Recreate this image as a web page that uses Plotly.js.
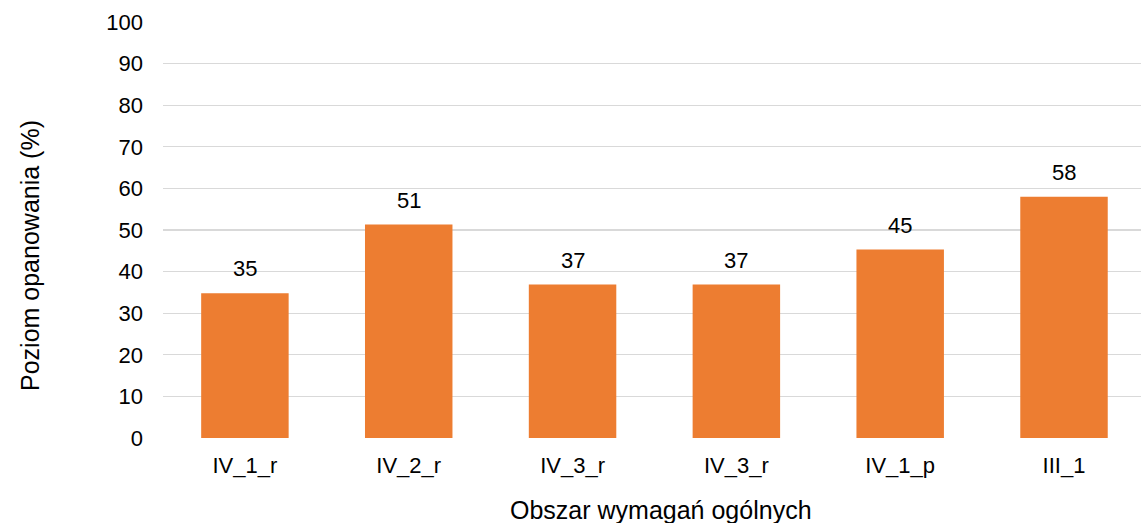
<!DOCTYPE html>
<html>
<head>
<meta charset="utf-8">
<script src="https://cdn.plot.ly/plotly-3.0.1.min.js"></script>
<style>html,body{margin:0;padding:0;background:#fff;}#chart{width:1141px;height:523px;}</style>
</head>
<body>
<div id="chart"></div>
<script>
const categories = ["IV_1_r", "IV_2_r", "IV_3_r", "IV_3_r", "IV_1_p", "III_1"];
const values = [34.8, 51.3, 36.9, 36.9, 45.3, 58.0];
const labels = ["35", "51", "37", "37", "45", "58"];
const xTitle = "Obszar wymagań ogólnych";
const yTitle = "Poziom opanowania (%)";

const font = "Liberation Sans, Arial, sans-serif";
const idx = categories.map((_, i) => i);

const trace = {
  type: "bar",
  x: idx,
  y: values,
  marker: {color: "#ED7D31"},
  hoverinfo: "skip"
};

const annotations = idx.map((i) => ({
  x: i, y: values[i], text: labels[i], showarrow: false,
  xanchor: "center", yanchor: "bottom", yshift: 10,
  font: {family: font, size: 22, color: "#000"}
}));
annotations.push({
  xref: "paper", yref: "paper", x: (661 - 163) / 978, y: (523 - 85 - 510) / 416,
  text: xTitle, showarrow: false, xanchor: "center", yanchor: "middle",
  font: {family: font, size: 25, color: "#000"}
});
annotations.push({
  xref: "paper", yref: "paper", x: (30 - 163) / 978, y: (438 - 256) / 416,
  text: yTitle, showarrow: false, xanchor: "center", yanchor: "middle", textangle: -90,
  font: {family: font, size: 25, color: "#000"}
});

const layout = {
  width: 1141, height: 523,
  margin: {l: 163, r: 0, t: 22, b: 85},
  paper_bgcolor: "#fff", plot_bgcolor: "#fff",
  bargap: 0.466,
  showlegend: false,
  font: {family: font, size: 22, color: "#000"},
  xaxis: {
    range: [-0.5, 5.47],
    tickmode: "array", tickvals: idx, ticktext: categories,
    showgrid: false, zeroline: false, showline: false,
    ticks: "", ticklabelstandoff: 12,
    tickfont: {family: font, size: 22, color: "#000"}
  },
  yaxis: {
    range: [0, 100], dtick: 10, tick0: 0,
    showgrid: true, gridcolor: "#D9D9D9", gridwidth: 1.3,
    zeroline: false, showline: false, ticks: "",
    ticklabelstandoff: 19,
    tickfont: {family: font, size: 22, color: "#000"}
  },
  annotations: annotations
};

Plotly.newPlot("chart", [trace], layout, {displayModeBar: false, staticPlot: true});
</script>
</body>
</html>
